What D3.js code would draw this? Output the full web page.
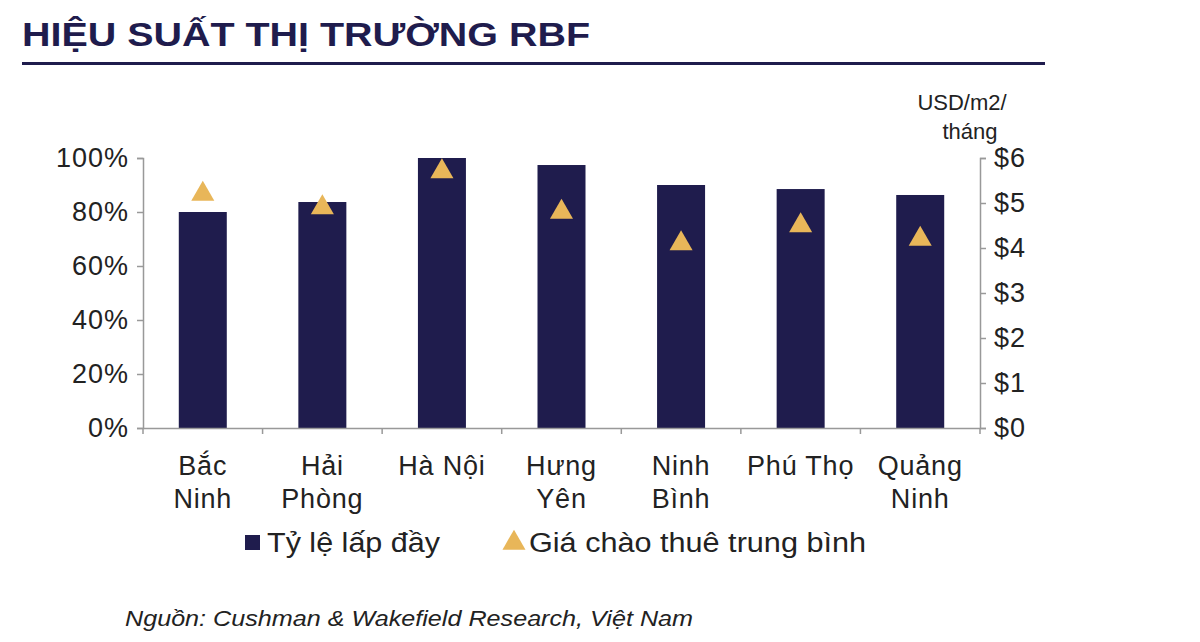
<!DOCTYPE html><html><head><meta charset="utf-8"><script src="https://cdn.jsdelivr.net/npm/d3@7"></script>
<style>body{margin:0;background:#fff}</style></head><body><svg id="c" width="1200" height="642"></svg>
<script>
const categories=[["Bắc","Ninh"],["Hải","Phòng"],["Hà Nội"],["Hưng","Yên"],["Ninh","Bình"],["Phú Thọ"],["Quảng","Ninh"]];
const occupancy=[80,83.7,100,97.4,90,88.5,86.3];
const rent=[5.2,4.9,5.7,4.8,4.1,4.5,4.2];
const leftTicks=[0,20,40,60,80,100];
const rightTicks=[0,1,2,3,4,5,6];
const navy="#1f1c4d", gold="#e8b659", txt="#222", font="Liberation Sans, Arial, sans-serif";
const svg=d3.select("#c").style("font-family",font);
svg.append("text").attr("x",22).attr("y",46).attr("font-size",34).attr("font-weight","bold").attr("fill",navy).attr("textLength",568).attr("lengthAdjust","spacingAndGlyphs").text("HIỆU SUẤT THỊ TRƯỜNG RBF");
svg.append("rect").attr("x",22).attr("y",62).attr("width",1023).attr("height",3).attr("fill",navy);
const xb=d3.scaleBand().domain(d3.range(7)).range([143,980]);
const yL=d3.scaleLinear().domain([0,100]).range([428,158]);
const yR=d3.scaleLinear().domain([0,6]).range([428,158]);
svg.selectAll("rect.b").data(occupancy).join("rect").attr("x",(d,i)=>xb(i)+xb.bandwidth()/2-24).attr("width",48).attr("y",d=>yL(d)).attr("height",d=>428-yL(d)).attr("fill",navy);
const tri=d3.symbol().type(d3.symbolTriangle).size(230);
svg.selectAll("path.t").data(rent).join("path").attr("d",tri).attr("transform",(d,i)=>`translate(${xb(i)+xb.bandwidth()/2},${yR(d)})`).attr("fill",gold);
const axC="#999";
const gl=svg.append("g").attr("transform","translate(143,0)").call(d3.axisLeft(yL).tickValues(leftTicks).tickFormat(d=>d+"%").tickSize(6).tickPadding(8));
const gr=svg.append("g").attr("transform","translate(980,0)").call(d3.axisRight(yR).tickValues(rightTicks).tickFormat(d=>"$"+d).tickSize(6).tickPadding(8));
const gx=svg.append("g").attr("transform","translate(0,428)").call(d3.axisBottom(xb).tickValues([]).tickSizeOuter(0));
[gl,gr,gx].forEach(g=>{g.selectAll("path,line").attr("stroke",axC).attr("stroke-width",1.5);g.selectAll("text").attr("font-size",27).attr("letter-spacing",1).attr("fill",txt).attr("font-family",font);});
gx.selectAll("line.bt").data(d3.range(8)).join("line").attr("x1",i=>143+i*xb.step()).attr("x2",i=>143+i*xb.step()).attr("y1",0).attr("y2",6).attr("stroke",axC).attr("stroke-width",1.5);
categories.forEach((c,i)=>{const t=svg.append("text").attr("x",xb(i)+xb.bandwidth()/2).attr("y",475).attr("text-anchor","middle").attr("font-size",27).attr("letter-spacing",0.8).attr("fill",txt);
c.forEach((l,j)=>t.append("tspan").attr("x",xb(i)+xb.bandwidth()/2).attr("dy",j?33:0).text(l));});
svg.append("text").attr("x",962).attr("y",110).attr("text-anchor","middle").attr("font-size",22).attr("fill",txt).text("USD/m2/");
svg.append("text").attr("x",970).attr("y",139).attr("text-anchor","middle").attr("font-size",22).attr("fill",txt).text("tháng");
svg.append("rect").attr("x",245).attr("y",535).attr("width",15).attr("height",15).attr("fill",navy);
svg.append("text").attr("x",267).attr("y",552).attr("font-size",27).attr("fill",txt).attr("textLength",173).attr("lengthAdjust","spacingAndGlyphs").text("Tỷ lệ lấp đầy");
svg.append("path").attr("d",tri).attr("transform","translate(514,543)").attr("fill",gold);
svg.append("text").attr("x",529).attr("y",552).attr("font-size",27).attr("fill",txt).attr("textLength",337).attr("lengthAdjust","spacingAndGlyphs").text("Giá chào thuê trung bình");
svg.append("text").attr("x",125).attr("y",626).attr("font-size",22).attr("font-style","italic").attr("fill",txt).attr("textLength",568).attr("lengthAdjust","spacingAndGlyphs").text("Nguồn: Cushman & Wakefield Research, Việt Nam");
</script></body></html>
